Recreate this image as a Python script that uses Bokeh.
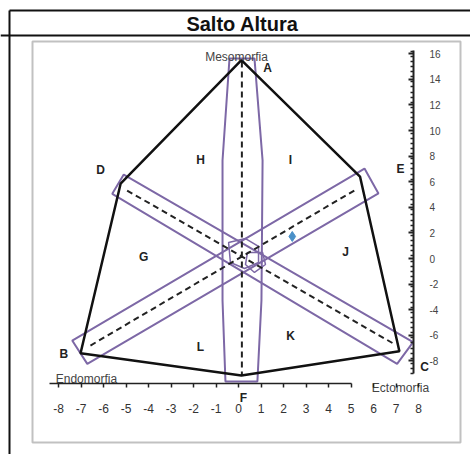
from bokeh.plotting import figure
from bokeh.models import LinearAxis, FixedTicker, Range1d, Label, Span, BoxAnnotation
from bokeh.embed import file_html
from bokeh.resources import INLINE
from bokeh.core.properties import value
import numpy as np

# ---------------- data ----------------
# Somatochart outline vertices, in order A, E, C, F, B, D
outline_names = ["A", "E", "C", "F", "B", "D"]
outline_x = [0.13, 5.4, 7.15, 0.13, -7.02, -5.24]
outline_y = [15.5, 6.4, -7.25, -9.14, -7.4, 5.84]

# dashed reference axes (A-F, D-C, B-E)
axes_xs = [[0.15, 0.15], [-4.95, 6.90], [-6.58, 5.28]]
axes_ys = [[15.4, -9.1], [5.31, -6.66], [-6.80, 5.45]]

# purple bands round the three axes
band_xs = [[-0.40, 0.71, 1.07, 1.02, 0.84, -0.58, -0.71, -0.71],
           [-7.39, 5.60, 6.22, -6.72],
           [-5.10, 7.76, 7.05, -5.61]]
band_ys = [[15.63, 15.63, 7.66, -3.28, -9.61, -9.61, -3.28, 7.66],
           [-6.41, 7.03, 5.08, -8.23],
           [6.56, -6.54, -8.23, 5.05]]

# small central shapes
core_xs = [[-0.44, 0.31, 0.89, 0.89, 0.27, -0.36], [0.40, 1.07, 1.20, 0.71, 0.31]]
core_ys = [[1.25, 1.56, 0.94, -0.31, -0.78, -0.31], [0.47, 0.47, -0.47, -1.09, -0.47]]

# athlete somatopoint
athlete_x = [2.39]
athlete_y = [1.72]

# region letters
region_text = ["A", "B", "C", "D", "E", "F", "G", "H", "I", "J", "K", "L"]
region_x = [1.29, -7.76, 8.27, -6.13, 7.20, 0.22, -4.21, -1.69, 2.31, 4.76, 2.31, -1.69]
region_y = [14.92, -7.45, -8.44, 6.88, 7.00, -10.9, 0.10, 7.66, 7.66, 0.49, -6.02, -6.93]

# component names
comp_text = ["Mesomorfia", "Endomorfia", "Ectomorfia"]
comp_x = [-0.09, -6.76, 7.20]
comp_y = [15.78, -9.38, -10.08]

x_ticks = list(range(-8, 9))
y_ticks = list(range(-8, 17, 2))

title_text = "Salto Altura"

# ---------------- layout ----------------
W, H = 470, 454
SX, SY = 22.5, 12.8          # px per unit
OX, OY = 238, 258            # canvas px of data origin

def dx(px):  # canvas px -> data x
    return (px - OX) / SX

def dy(py):  # canvas px -> data y
    return (OY - py) / SY

FONT = "Liberation Sans"

p = figure(width=W, height=H, output_backend="svg", toolbar_location=None,
           x_range=Range1d(-OX / SX, (W - OX) / SX),
           y_range=Range1d(-(H - OY) / SY, OY / SY),
           x_axis_type=None, y_axis_type=None, min_border=0,
           outline_line_color=None, background_fill_color="white",
           border_fill_color="white")

# frames: outer chart border (left and top edges visible), title separator, plot-area box
p.segment(x0=[dx(9), dx(9)], y0=[dy(10), dy(10)], x1=[dx(9), dx(480)], y1=[dy(470), dy(10)],
          line_color="#111", line_width=2)
p.add_layout(Span(location=dy(35), dimension="width", line_color="#111", line_width=2))
p.add_layout(BoxAnnotation(left=dx(32), right=dx(460), top=dy(41), bottom=dy(442),
                           fill_color=None, line_color="#333", line_width=2))

# title
p.add_layout(Label(x=dx(242), y=dy(23), text=title_text, text_align="center",
                   text_baseline="middle", text_font=FONT, text_font_style="bold",
                   text_font_size="20px", text_color="#111"))

# axes
y_loc = dx(413)
x_loc = dy(383)

yaxis = LinearAxis(fixed_location=y_loc, bounds=(-9.0, 16.25),
                   ticker=FixedTicker(ticks=y_ticks,
                                      minor_ticks=list(np.arange(-9.0, 16.3, 0.4))),
                   axis_line_color="#222", axis_line_width=2,
                   major_tick_in=5, major_tick_out=0, minor_tick_in=3, minor_tick_out=0,
                   major_tick_line_color="#222", minor_tick_line_color="#222",
                   major_tick_line_width=2, minor_tick_line_width=1.5,
                   major_label_standoff=16, major_label_text_font=FONT,
                   major_label_text_font_size="10px", major_label_text_color="#444",
                   major_label_overrides={t: str(t) for t in y_ticks})
p.add_layout(yaxis, "right")

xaxis_line = LinearAxis(fixed_location=x_loc, bounds=(-8.4, 5.0),
                        ticker=FixedTicker(ticks=x_ticks, minor_ticks=[]),
                        axis_line_color="#222", axis_line_width=1.5,
                        major_tick_in=0, major_tick_out=4,
                        major_tick_line_color="#222", major_tick_line_width=1.5,
                        major_label_text_color=None)
p.add_layout(xaxis_line, "below")

xaxis_lab = LinearAxis(fixed_location=x_loc,
                       ticker=FixedTicker(ticks=x_ticks, minor_ticks=[]),
                       axis_line_color=None, major_tick_line_color=None,
                       minor_tick_line_color=None, major_label_standoff=14,
                       major_label_text_font=FONT, major_label_text_font_size="12px",
                       major_label_text_color="#333",
                       major_label_overrides={t: str(t) for t in x_ticks})
p.add_layout(xaxis_lab, "below")

# purple bands
p.patches(band_xs, band_ys, fill_color=None, line_color="#7d68a6", line_width=2)
p.patches(core_xs, core_ys, fill_color=None, line_color="#7d68a6", line_width=1.5)

# dashed axes
p.multi_line(axes_xs, axes_ys, line_color="#222", line_width=2, line_dash="6 4")

# outline
p.patch(outline_x, outline_y, fill_color=None, line_color="#111", line_width=2.5)

# athlete
p.scatter(athlete_x, athlete_y, marker="diamond", size=10, color="#4a90c8")

# texts
p.text(region_x, region_y, text=region_text, text_font=value(FONT),
       text_font_style="bold", text_font_size="12px", text_color="#222",
       text_align="center", text_baseline="middle")
p.text(comp_x, comp_y, text=comp_text, text_font=value(FONT),
       text_font_size="12px", text_color="#444",
       text_align="center", text_baseline="middle")

open("out.html", "w").write(file_html(p, INLINE))
